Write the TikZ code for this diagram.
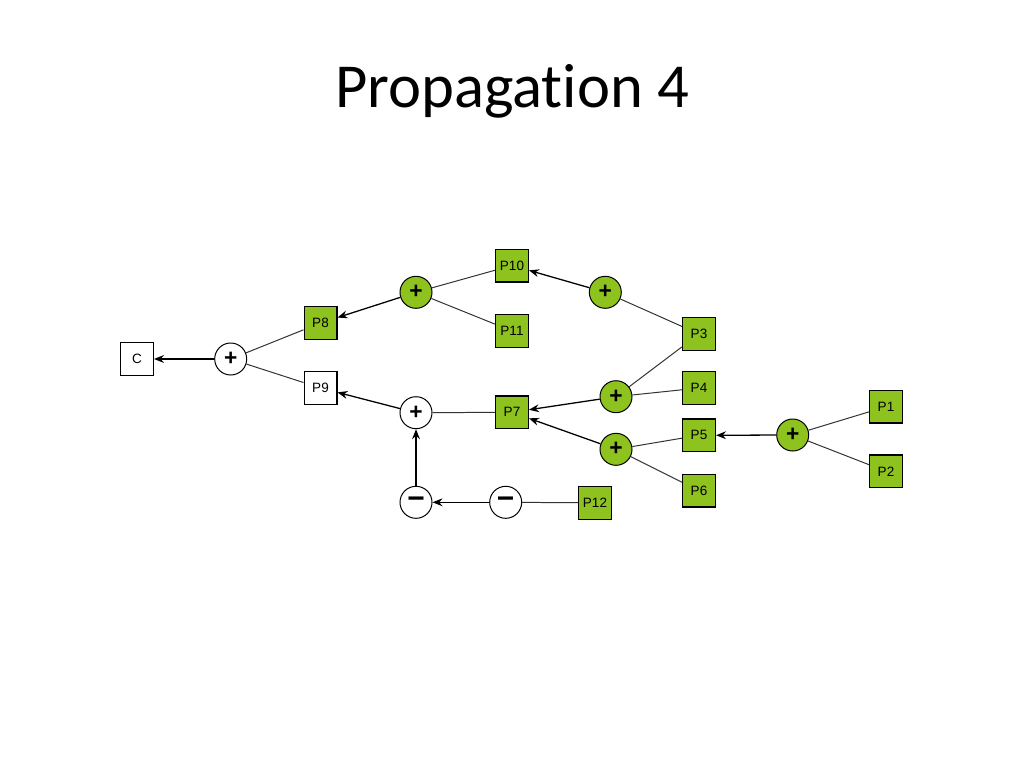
\documentclass[tikz,border=0pt]{standalone}
\usepackage{fontspec}
\usetikzlibrary{arrows.meta}
\setmainfont{Liberation Sans}
\newfontfamily\titlefont[Ligatures=NoCommon]{Carlito}
\definecolor{leaf}{RGB}{141,194,31}
\tikzset{
  box/.style={draw, line width=0.9pt, minimum size=23pt, inner sep=0pt, font=\fontsize{9.5}{10}\selectfont},
  gbox/.style={box, fill=leaf},
  op/.style={draw, line width=0.7pt, circle, minimum size=22.5pt, inner sep=0pt, font=\fontsize{16}{16}\selectfont\bfseries},
  gop/.style={op, fill=leaf},
  negop/.style={op, font=\fontsize{21}{21}\selectfont\bfseries},
}
\begin{document}
\begin{tikzpicture}[x=0.703pt, y=-0.703pt, >={Stealth[length=7pt,width=5.5pt]}]
  \useasboundingbox (0,0) rectangle (1024,768);
  \node[font=\titlefont\fontsize{44}{44}\selectfont, anchor=base] (title) at (512,107) {Propagation 4};
  \draw
    (137,359) node[box] (c){C}
    (320.5,323) node[gbox] (p8){P8}
    (320.5,388) node[box] (p9){P9}
    (512,265.5) node[gbox] (p10){P10}
    (512,331) node[gbox] (p11){P11}
    (512,412.3) node[gbox] (p7){P7}
    (699,334) node[gbox] (p3){P3}
    (699,388) node[gbox] (p4){P4}
    (699,435.3) node[gbox] (p5){P5}
    (699,490.7) node[gbox] (p6){P6}
    (886,406.7) node[gbox] (p1){P1}
    (886,471.3) node[gbox] (p2){P2}
    (595,502.8) node[gbox] (p12){P12};
  \draw
    (230.7,359) node[op] (sum1){+}
    (416,292.3) node[gop] (sum2){+}
    (416,412.7) node[op] (sum3){+}
    (416,502.3) node[negop] (neg1){−}
    (505.7,502.3) node[negop] (neg2){−}
    (605.3,292.3) node[gop] (sum4){+}
    (616,396.7) node[gop] (sum5){+}
    (616,449.3) node[gop] (sum6){+}
    (792.7,435) node[gop] (sum7){+};
  \begin{scope}[->, line width=0.9pt]
    \draw (sum1) to (c);
    \draw (sum2) to (p8);
    \draw (sum3) to (p9);
    \draw (neg1) to (sum3);
    \draw (neg2) to (neg1);
    \draw (sum4) to (p10);
    \draw (sum5) to (p7);
    \draw (sum6) to (p7);
    \draw (sum7) to (p5);
  \end{scope}
  \begin{scope}[-, line width=0.7pt, black!80]
    \draw (sum1) to (p8);
    \draw (sum1) to (p9);
    \draw (sum2) to (p10);
    \draw (sum2) to (p11);
    \draw (sum3) to (p7);
    \draw (neg2) to (p12);
    \draw (sum4) to (p3);
    \draw (sum5) to (p3);
    \draw (sum5) to (p4);
    \draw (sum6) to (p5);
    \draw (sum6) to (p6);
    \draw (sum7) to (p1);
    \draw (sum7) to (p2);
  \end{scope}
\end{tikzpicture}
\end{document}
